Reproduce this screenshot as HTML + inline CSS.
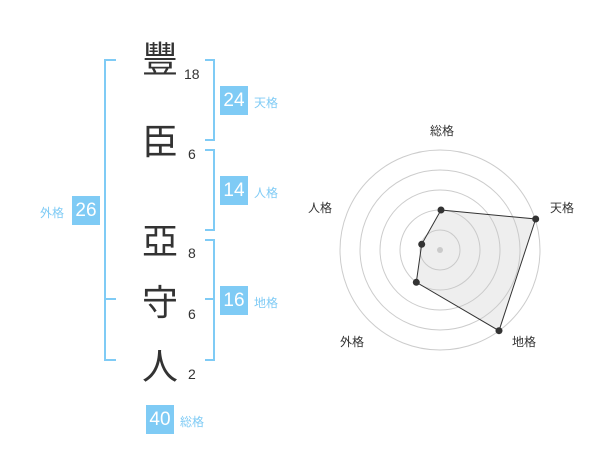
<!DOCTYPE html>
<html><head><meta charset="utf-8"><style>
body{margin:0;width:600px;height:470px;background:#fff;position:relative;overflow:hidden;font-family:"Liberation Sans","Noto Sans CJK JP",sans-serif}
.c{position:absolute;font-size:36px;color:#333;width:40px;text-align:center;line-height:40px;left:140px}
.n{position:absolute;font-size:14px;color:#333;line-height:16px}
.b{position:absolute;width:28px;height:29px;background:#7fcbf5;color:#fff;font-size:19px;line-height:29px;text-align:center}
.l{position:absolute;font-size:12px;color:#7fcbf5;line-height:14px}
.r{position:absolute;font-size:12px;color:#333;line-height:14px}
</style></head><body>
<svg width="600" height="470" style="position:absolute;left:0;top:0">
<g fill="none" stroke="#7fcbf5" stroke-width="2">
<polyline points="116,60 105,60 105,360 116,360"/>
<line x1="105" y1="299" x2="116" y2="299"/>
<polyline points="205,60 214,60 214,140 205,140"/>
<polyline points="205,150 214,150 214,230 205,230"/>
<polyline points="205,240 214,240 214,360 205,360"/>
<line x1="205" y1="299" x2="214" y2="299"/>
</g>
<g fill="none" stroke="#ccc" stroke-width="1">
<circle cx="440" cy="250" r="20"/><circle cx="440" cy="250" r="40"/><circle cx="440" cy="250" r="60"/><circle cx="440" cy="250" r="80"/><circle cx="440" cy="250" r="100"/>
</g>
<circle cx="440" cy="250" r="3" fill="#ccc"/>
<polygon points="441,210 535.7,219 499,330.7 416.3,282.3 421.7,244.3" fill="rgba(200,200,200,0.3)" stroke="#333" stroke-width="1"/>
<g fill="#333"><circle cx="441" cy="210" r="3.5"/><circle cx="535.7" cy="219" r="3.5"/><circle cx="499" cy="330.7" r="3.5"/><circle cx="416.3" cy="282.3" r="3.5"/><circle cx="421.7" cy="244.3" r="3.5"/></g>
</svg>
<div class="c" style="top:40px">豐</div>
<div class="c" style="top:122px">臣</div>
<div class="c" style="top:222px">亞</div>
<div class="c" style="top:283px">守</div>
<div class="c" style="top:347px">人</div>
<div class="n" style="left:184px;top:66px">18</div>
<div class="n" style="left:188px;top:146px">6</div>
<div class="n" style="left:188px;top:245px">8</div>
<div class="n" style="left:188px;top:306px">6</div>
<div class="n" style="left:188px;top:366px">2</div>
<div class="b" style="left:220px;top:86px">24</div><div class="l" style="left:254px;top:96px">天格</div>
<div class="b" style="left:220px;top:176px">14</div><div class="l" style="left:254px;top:186px">人格</div>
<div class="b" style="left:220px;top:286px">16</div><div class="l" style="left:254px;top:296px">地格</div>
<div class="b" style="left:72px;top:196px">26</div><div class="l" style="left:40px;top:206px">外格</div>
<div class="b" style="left:146px;top:405px">40</div><div class="l" style="left:180px;top:415px">総格</div>
<div class="r" style="left:430px;top:124px">総格</div>
<div class="r" style="left:550px;top:201px">天格</div>
<div class="r" style="left:512px;top:335px">地格</div>
<div class="r" style="left:340px;top:335px">外格</div>
<div class="r" style="left:308px;top:201px">人格</div>
</body></html>
